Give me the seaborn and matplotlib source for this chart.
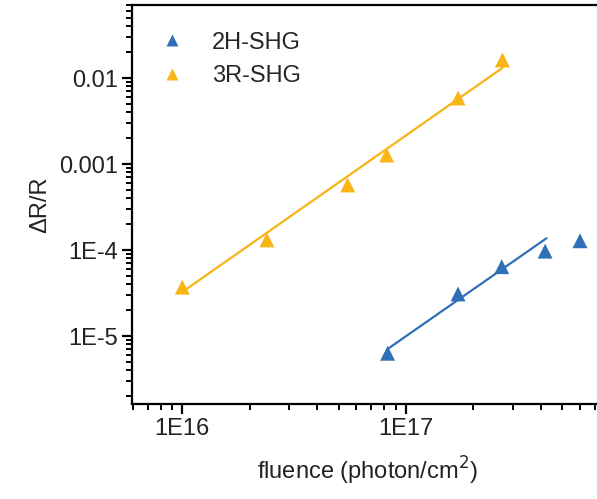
import numpy as np
import pandas as pd
import matplotlib
matplotlib.use("Agg")
import matplotlib.pyplot as plt
import matplotlib.ticker as mticker
import seaborn as sns

# ---- data ----
fluence_2h = [8.28e16, 1.71e17, 2.68e17, 4.19e17, 6.0e17]
dr_2h = [6.3e-6, 3.08e-5, 6.4e-5, 9.7e-5, 1.28e-4]
fluence_3r = [1.0e16, 2.39e16, 5.49e16, 8.2e16, 1.71e17, 2.70e17]
dr_3r = [3.7e-5, 1.31e-4, 5.7e-4, 1.27e-3, 5.85e-3, 1.62e-2]

fit_2h_x = [8.28e16, 4.25e17]
fit_2h_y = [7.06e-6, 1.37e-4]
fit_3r_x = [1.0e16, 2.70e17]
fit_3r_y = [3.25e-5, 1.31e-2]

series_names = ["2H-SHG", "3R-SHG"]
colors = {"2H-SHG": "#3070B8", "3R-SHG": "#F9B416"}

x_ticks = [1e16, 1e17]
x_ticklabels = ["1E16", "1E17"]
y_ticks = [1e-5, 1e-4, 1e-3, 1e-2]
y_ticklabels = ["1E-5", "1E-4", "0.001", "0.01"]

df = pd.DataFrame({
    "fluence": fluence_2h + fluence_3r,
    "dr": dr_2h + dr_3r,
    "sample": ["2H-SHG"] * len(fluence_2h) + ["3R-SHG"] * len(fluence_3r),
})
fit_df = pd.DataFrame({
    "fluence": fit_2h_x + fit_3r_x,
    "dr": fit_2h_y + fit_3r_y,
    "sample": ["2H-SHG"] * 2 + ["3R-SHG"] * 2,
})

sns.set_style("ticks")
plt.rcParams["font.family"] = ["Liberation Sans", "DejaVu Sans"]

fig = plt.figure(figsize=(5.97, 4.99), dpi=100)
ax = fig.add_axes([132 / 597, 1 - 404 / 499, 1 - 132 / 597 + 0.01, (404 - 5) / 499])

for name in series_names:
    sub = fit_df[fit_df["sample"] == name]
    sns.lineplot(data=sub, x="fluence", y="dr", color=colors[name], lw=1.6,
                 ax=ax, legend=False, estimator=None, sort=False)

sns.scatterplot(data=df, x="fluence", y="dr", hue="sample", hue_order=series_names,
                palette=colors, marker="^", s=115, edgecolor="none", ax=ax, zorder=3)

ax.set_xscale("log")
ax.set_yscale("log")
ax.set_xlim(5.96e15, 7.6e17)
ax.set_ylim(1.62e-6, 0.0706)

ax.set_xticks(x_ticks)
ax.set_xticklabels(x_ticklabels)
ax.set_yticks(y_ticks)
ax.set_yticklabels(y_ticklabels)
ax.xaxis.set_minor_locator(mticker.LogLocator(base=10, subs=np.arange(2, 10)))
ax.yaxis.set_minor_locator(mticker.LogLocator(base=10, subs=np.arange(2, 10)))
ax.xaxis.set_minor_formatter(mticker.NullFormatter())
ax.yaxis.set_minor_formatter(mticker.NullFormatter())

for side in ["left", "bottom", "top"]:
    ax.spines[side].set_linewidth(1.6)
    ax.spines[side].set_color("black")
ax.spines["right"].set_visible(False)

ax.tick_params(which="major", direction="out", length=7, width=1.6, labelsize=17,
               colors="black", labelcolor="#222222", pad=3)
ax.tick_params(which="minor", direction="out", length=4, width=1.4, colors="black")

ax.set_xlabel("fluence (photon/cm$^2$)", fontsize=17, color="#222222", labelpad=11)
ax.set_ylabel("ΔR/R", fontsize=17, color="#222222", labelpad=6)

leg = ax.legend(loc="upper left", bbox_to_anchor=(0.0, 0.975), frameon=False,
                fontsize=17, markerscale=0.85, handletextpad=0.7, labelspacing=0.5,
                borderaxespad=0.3)

fig.savefig("out.png", dpi=100)
